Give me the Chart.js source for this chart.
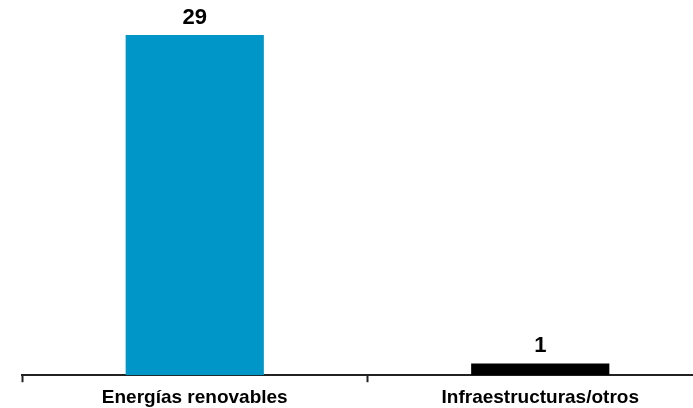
<!DOCTYPE html>
<html lang="es">
<head>
    <meta charset="UTF-8">
    <title>Bar Chart</title>
    <script src="https://cdn.jsdelivr.net/npm/chart.js"></script>
    <style>
        html, body { margin: 0; padding: 0; overflow: hidden; background: #fff; }
        #wrap { width: 713px; height: 408px; overflow: hidden; }
    </style>
</head>
<body>
<div id="wrap"><canvas id="chartCanvas" width="713" height="413"></canvas></div>

<script>
    // chart data
    const categories = ["Energías renovables", "Infraestructuras/otros"];
    const values = [29, 1];
    const barColors = ["#0096C8", "#000000"];

    // draws the number above each bar
    const valueLabels = {
        id: "valueLabels",
        afterDatasetsDraw(chart) {
            const ctx = chart.ctx;
            const meta = chart.getDatasetMeta(0);
            ctx.save();
            ctx.font = "bold 22px 'Liberation Sans', Arial, sans-serif";
            ctx.fillStyle = "#000";
            ctx.textAlign = "center";
            ctx.textBaseline = "alphabetic";
            meta.data.forEach((bar, i) => {
                ctx.fillText(String(values[i]), bar.x, bar.y - 11);
            });
            ctx.restore();
        }
    };

    const ctx = document.getElementById("chartCanvas").getContext("2d");
    new Chart(ctx, {
        type: "bar",
        data: {
            labels: categories,
            datasets: [{
                data: values,
                backgroundColor: barColors,
                barPercentage: 0.4,
                categoryPercentage: 1
            }]
        },
        options: {
            responsive: false,
            animation: false,
            layout: { padding: { top: 35, left: 22, right: 0, bottom: 0 } },
            plugins: {
                legend: { display: false },
                tooltip: { enabled: false }
            },
            scales: {
                x: {
                    offset: true,
                    border: { display: true, color: "#222", width: 2 },
                    grid: {
                        offset: true,
                        drawOnChartArea: false,
                        drawTicks: true,
                        tickLength: 7,
                        tickWidth: 2,
                        tickColor: "#222"
                    },
                    ticks: {
                        color: "#000",
                        padding: 4,
                        font: { family: "'Liberation Sans', Arial, sans-serif", size: 19, weight: "bold" }
                    }
                },
                y: {
                    display: false,
                    min: 0,
                    max: 29
                }
            }
        },
        plugins: [valueLabels]
    });
</script>
</body>
</html>
